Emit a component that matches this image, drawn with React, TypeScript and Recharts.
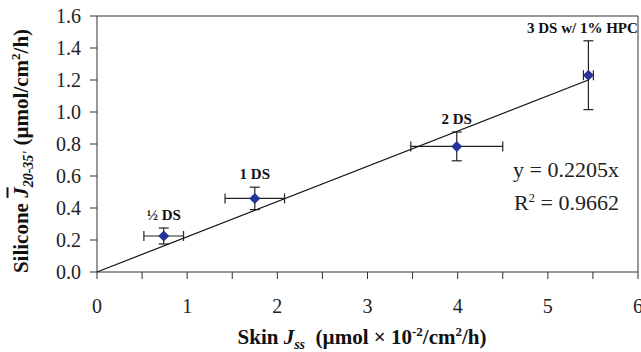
import { ScatterChart, Scatter, XAxis, YAxis, ErrorBar, ReferenceLine } from 'recharts'

const groups = ['½ DS', '1 DS', '2 DS', '3 DS w/ 1% HPC']
const skinFlux = [0.74, 1.75, 3.99, 5.45]
const skinErr = [0.22, 0.33, 0.51, 0.055]
const siliconeFlux = [0.225, 0.46, 0.785, 1.23]
const siliconeErr = [0.05, 0.07, 0.09, 0.215]
const trendX = [0, 5.45]
const trendY = [0, 1.2]
const xTicks = [0, 0.5, 1, 1.5, 2, 2.5, 3, 3.5, 4, 4.5, 5, 5.5, 6]
const yTicks = [0, 0.2, 0.4, 0.6, 0.8, 1.0, 1.2, 1.4, 1.6]

const points = groups.map((g, i) => ({
  name: g,
  x: skinFlux[i],
  y: siliconeFlux[i],
  ex: skinErr[i],
  ey: siliconeErr[i],
}))
// label anchors sit on top of the vertical error bar
const labelPts = groups.map((g, i) => ({ name: g, x: skinFlux[i], y: siliconeFlux[i] + siliconeErr[i] }))
const trend = trendX.map((x, i) => ({ x, y: trendY[i] }))

const FONT = '"Liberation Serif", "Times New Roman", serif'
const AXIS = '#333'

const Diamond = (p: any) => (
  <polygon
    points={`${p.cx},${p.cy - 5.5} ${p.cx + 5.5},${p.cy} ${p.cx},${p.cy + 5.5} ${p.cx - 5.5},${p.cy}`}
    fill="#24349c"
  />
)

const GroupLabel = (p: any) => {
  const name: string = p.payload?.name ?? ''
  const shift = name.startsWith('3') ? -6 : 0
  return (
    <text x={p.cx + shift} y={p.cy - 8} textAnchor="middle" fontFamily={FONT} fontWeight={700} fontSize={15} fill="#111">
      {name}
    </text>
  )
}

const XTick = ({ x, y, payload }: any) => {
  if (!Number.isInteger(payload.value)) return null
  return (
    <text x={x} y={y} dy="0.71em" textAnchor="middle" fontFamily={FONT} fontSize={20} fill="#222">
      {payload.value}
    </text>
  )
}

export default function App() {
  return (
    <div style={{ position: 'absolute', left: 0, top: 0, width: 641, height: 352, background: '#fff', fontFamily: FONT, overflow: 'hidden' }}>
      <ScatterChart width={641} height={352} margin={{ top: 16, right: 3, left: 37, bottom: 30 }}>
        <XAxis
          type="number"
          dataKey="x"
          domain={[0, 6]}
          ticks={xTicks}
          interval={0}
          tick={<XTick />}
          tickSize={7}
          tickMargin={20}
          stroke={AXIS}
          height={50}
        />
        <YAxis
          type="number"
          dataKey="y"
          domain={[0, 1.6]}
          ticks={yTicks}
          interval={0}
          tickFormatter={(v: number) => v.toFixed(1)}
          tick={{ fontSize: 20, fill: '#222', fontFamily: FONT }}
          tickSize={7}
          tickMargin={9}
          stroke={AXIS}
          width={60}
        />
        <ReferenceLine y={1.6} stroke={AXIS} />
        <ReferenceLine x={6} stroke={AXIS} />
        <Scatter data={trend} line={{ stroke: '#111', strokeWidth: 1.2 }} shape={() => <g />} isAnimationActive={false} />
        <Scatter data={points} shape={<Diamond />} isAnimationActive={false}>
          <ErrorBar dataKey="ex" direction="x" width={5} stroke="#222" strokeWidth={1.2} />
          <ErrorBar dataKey="ey" direction="y" width={5} stroke="#222" strokeWidth={1.2} />
        </Scatter>
        <Scatter data={labelPts} shape={<GroupLabel />} isAnimationActive={false} />
      </ScatterChart>

      <div style={{ position: 'absolute', left: 362, top: 327, transform: 'translateX(-50%)', whiteSpace: 'nowrap', fontWeight: 700, fontSize: 21, color: '#111', lineHeight: 1 }}>
        Skin <i>J</i><sub style={{ fontStyle: 'italic', fontSize: 14, lineHeight: 0 }}>ss</sub>&nbsp; (µmol × 10<sup style={{ fontSize: 13, lineHeight: 0 }}>-2</sup>/cm<sup style={{ fontSize: 13, lineHeight: 0 }}>2</sup>/h)
      </div>

      <div style={{ position: 'absolute', left: 21, top: 151, transform: 'translate(-50%, -50%) rotate(-90deg)', whiteSpace: 'nowrap', fontWeight: 700, fontSize: 21, color: '#111', lineHeight: 1 }}>
        Silicone <i style={{ textDecoration: 'overline' }}>J</i><sub style={{ fontStyle: 'italic', fontSize: 14, lineHeight: 0 }}>20-35'</sub> (µmol/cm<sup style={{ fontSize: 13, lineHeight: 0 }}>2</sup>/h)
      </div>

      <div style={{ position: 'absolute', right: 22, top: 159, fontSize: 22, color: '#222', lineHeight: 1, textAlign: 'right' }}>
        y = 0.2205x
      </div>
      <div style={{ position: 'absolute', right: 22, top: 192, fontSize: 22, color: '#222', lineHeight: 1, textAlign: 'right' }}>
        R<sup style={{ fontSize: 13, lineHeight: 0 }}>2</sup> = 0.9662
      </div>
    </div>
  )
}
